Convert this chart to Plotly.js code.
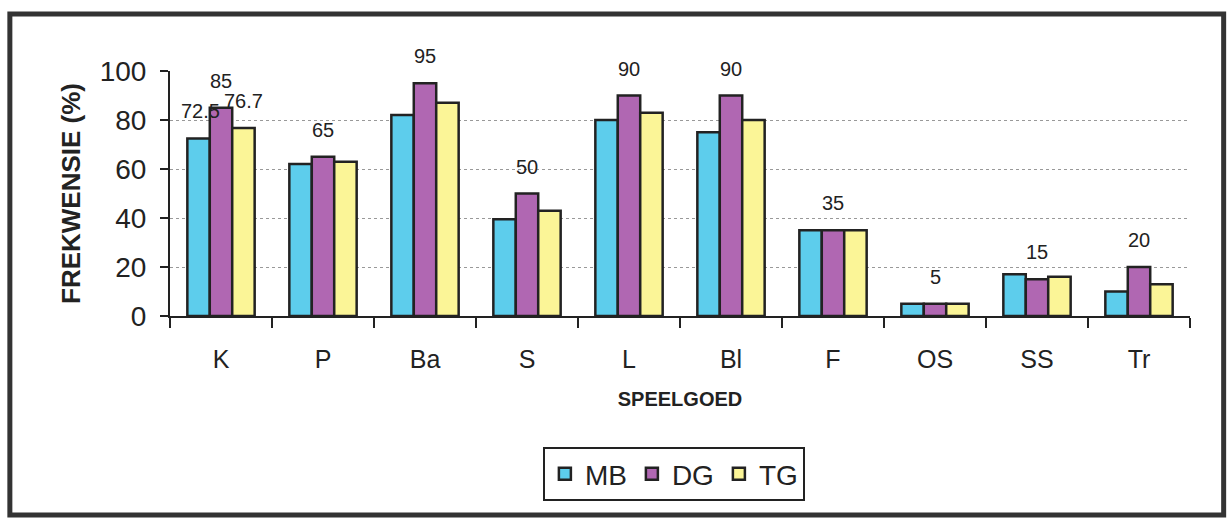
<!DOCTYPE html>
<html>
<head>
<meta charset="utf-8">
<script src="https://cdn.plot.ly/plotly-3.0.1.min.js"></script>
<style>html,body{margin:0;padding:0;background:#fff;}#chart{width:1231px;height:519px;}</style>
</head>
<body>
<div id="chart"></div>
<script>
// Data
const categories = ['K', 'P', 'Ba', 'S', 'L', 'Bl', 'F', 'OS', 'SS', 'Tr'];
const seriesNames = ['MB', 'DG', 'TG'];
const valuesMB = [72.5, 62, 82, 39.5, 80, 75, 35, 5, 17, 10];
const valuesDG = [85, 65, 95, 50, 90, 90, 35, 5, 15, 20];
const valuesTG = [76.7, 63, 87, 43, 83, 80, 35, 5, 16, 13];
const labelsMB = ['72.5', '', '', '', '', '', '', '', '', ''];
const labelsDG = ['85', '65', '95', '50', '90', '90', '35', '5', '15', '20'];
const labelsTG = ['76.7', '', '', '', '', '', '', '', '', ''];
const yTicks = [0, 20, 40, 60, 80, 100];

const colors = ['#5dcdec', '#b067b2', '#fbf597'];
const allValues = [valuesMB, valuesDG, valuesTG];
const allLabels = [labelsMB, labelsDG, labelsTG];
const shifts = [-21, 0, 22];
const font = 'Arial, "Liberation Sans", sans-serif';

const traces = seriesNames.map((n, i) => ({
  type: 'bar', name: n, x: categories, y: allValues[i],
  marker: {color: colors[i], line: {color: '#222', width: 2.5}},
  hoverinfo: 'x+y'
}));

const annotations = [];
allLabels.forEach((labs, s) => {
  labs.forEach((t, j) => {
    if (t !== '') annotations.push({
      x: categories[j], y: allValues[s][j], xref: 'x', yref: 'y',
      text: t, showarrow: false, yanchor: 'bottom', xanchor: 'center',
      xshift: shifts[s], yshift: 14, font: {family: font, size: 20, color: '#222'}
    });
  });
});

const layout = {
  width: 1231, height: 519,
  margin: {l: 170, r: 41, t: 71, b: 203},
  paper_bgcolor: '#fff', plot_bgcolor: '#fff',
  font: {family: font, color: '#222'},
  barmode: 'group', bargap: 0.34, bargroupgap: 0,
  xaxis: {
    type: 'category', tickson: 'boundaries', ticks: 'outside', ticklen: 10, tickwidth: 2, tickcolor: '#222',
    showline: true, linecolor: '#222', linewidth: 2, showgrid: false,
    tickfont: {family: font, size: 25, color: '#222'}, ticklabelstandoff: 20,
    title: {text: '<b>SPEELGOED</b>', font: {family: font, size: 20, color: '#222'}, standoff: 20}
  },
  yaxis: {
    range: [0, 100], tickvals: yTicks, ticks: 'outside', ticklen: 8, tickwidth: 2, tickcolor: '#222',
    showline: true, linecolor: '#222', linewidth: 2, zeroline: false,
    showgrid: true, gridcolor: '#999', griddash: 'dot', gridwidth: 1,
    tickfont: {family: font, size: 28, color: '#222'}, ticklabelstandoff: 8,
    title: {text: '<b>FREKWENSIE (%)</b>', font: {family: font, size: 26, color: '#222'}, standoff: 12}
  },
  showlegend: true,
  legend: {
    orientation: 'h', x: 0.494, xanchor: 'center', y: -0.535, yanchor: 'top',
    bordercolor: '#222', borderwidth: 2, bgcolor: '#fff',
    font: {family: font, size: 28, color: '#222'}, itemwidth: 30, traceorder: 'normal'
  },
  annotations: annotations,
  shapes: [{
    type: 'rect', xref: 'paper', yref: 'paper',
    x0: -0.157, x1: 1.033, y0: -0.812, y1: 1.233,
    line: {color: '#333', width: 5}
  }]
};

Plotly.newPlot('chart', traces, layout, {displayModeBar: false, responsive: false});
</script>
</body>
</html>
